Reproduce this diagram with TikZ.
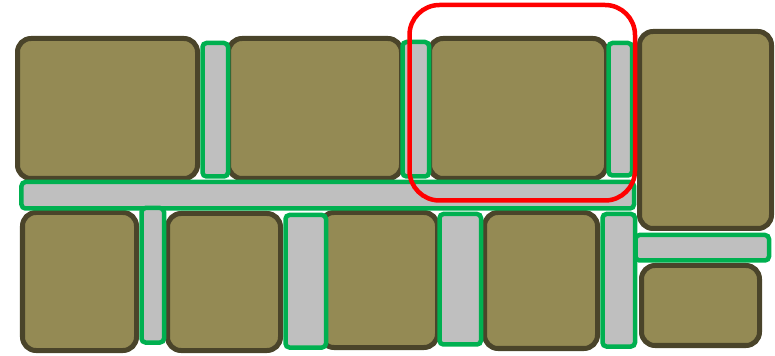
\documentclass[tikz,border=0pt]{standalone}
\usepackage{xcolor}
\definecolor{stoneolive}{RGB}{148,138,84}
\definecolor{stonedark}{RGB}{74,68,42}
\definecolor{jointgreen}{RGB}{0,176,80}
\definecolor{jointgray}{RGB}{191,191,191}
\definecolor{focusred}{RGB}{255,0,0}
\usepackage{tikz}
\tikzset{
  stone/.style={fill=stoneolive, draw=stonedark, line width=0.1cm, rounded corners=0.27cm},
  joint/.style={fill=jointgray, draw=jointgreen, line width=0.09cm, rounded corners=0.08cm},
  focus/.style={draw=focusred, line width=0.09cm, rounded corners=0.6cm}
}

\begin{document}
\begin{tikzpicture}
      \useasboundingbox (0,0) rectangle (15.5,7.1);

      % Upper course of stones
      \draw[stone] (0.35,3.53) rectangle (3.95,6.33);
      \draw[stone] (4.57,3.53) rectangle (8.03,6.33);
      \draw[stone] (8.59,3.53) rectangle (12.13,6.33);
      \draw[stone] (12.79,2.53) rectangle (15.43,6.47);

      % Lower course of stones
      \draw[stone] (0.45,0.09) rectangle (2.73,2.85);
      \draw[stone] (3.35,0.09) rectangle (5.61,2.83);
      \draw[stone] (6.41,0.15) rectangle (8.75,2.85);
      \draw[stone] (9.69,0.13) rectangle (11.95,2.85);
      \draw[stone] (12.83,0.19) rectangle (15.19,1.79);

      % Bed joint between the courses
      \draw[joint] (0.43,2.93) rectangle (12.68,3.46);

      % Head joints, upper course
      \draw[joint] (4.05,3.57) rectangle (4.56,6.24);
      \draw[joint] (8.05,3.57) rectangle (8.58,6.26);
      \draw[joint] (12.17,3.59) rectangle (12.64,6.24);

      % Head joints, lower course
      \draw[joint] (2.83,0.25) rectangle (3.28,2.94);
      \draw[joint] (5.71,0.15) rectangle (6.52,2.80);
      \draw[joint] (8.79,0.21) rectangle (9.62,2.82);
      \draw[joint] (12.05,0.17) rectangle (12.70,2.82);
      \draw[joint] (12.71,1.89) rectangle (15.38,2.40);

      % Highlighted region
      \draw[focus] (8.19,3.09) rectangle (12.70,7.00);
\end{tikzpicture}
\end{document}
